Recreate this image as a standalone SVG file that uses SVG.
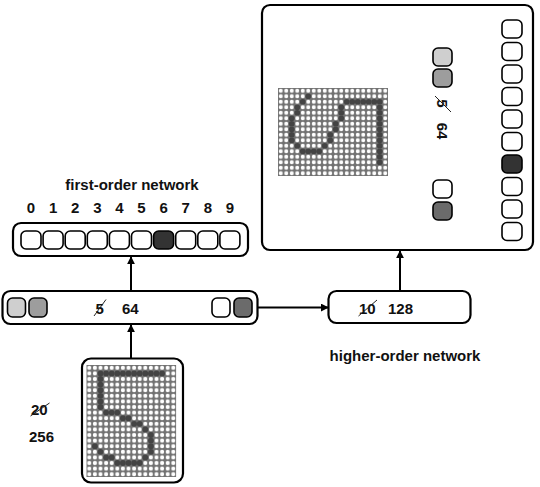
<svg xmlns="http://www.w3.org/2000/svg" width="540" height="487" viewBox="0 0 540 487">
<style>
.box{fill:#fff;stroke:#000;stroke-width:2.2}
.sq{stroke:#000;stroke-width:1.6}
.w{fill:#fff}.l{fill:#cfcfcf}.m{fill:#9d9d9d}.d{fill:#6b6b6b}.k{fill:#333}
.t{font-family:"Liberation Sans",Arial,sans-serif;font-weight:bold;font-size:15px;fill:#111}
.st{stroke:#222;stroke-width:1}
.con{stroke:#000;stroke-width:2;fill:none;marker-end:url(#ah)}
</style>
<defs>
<marker id="ah" viewBox="0 0 10 10" markerUnits="userSpaceOnUse" markerWidth="8" markerHeight="8" refX="9" refY="5" orient="auto"><path d="M0,0 L10,5 L0,10 z" fill="#000"/></marker>
<pattern id="gridA" patternUnits="userSpaceOnUse" x="86.5" y="365" width="5.6" height="5.6"><rect width="5.6" height="5.6" fill="#727272"/><circle cx="2.8" cy="2.8" r="2.05" fill="#fff"/></pattern>
<pattern id="gridB" patternUnits="userSpaceOnUse" x="278" y="88" width="5.5" height="5.5"><rect width="5.5" height="5.5" fill="#727272"/><circle cx="2.75" cy="2.75" r="2.0" fill="#fff"/></pattern>
</defs>

<g id="connectors">
<path class="con" d="M131,358 V325"/>
<path class="con" d="M131,291 V257"/>
<path class="con" d="M258,307.5 H328"/>
<path class="con" d="M400,291 V251"/>
</g>

<g id="output">
<text class="t" x="132" y="190" text-anchor="middle">first-order network</text>
<g text-anchor="middle" class="t">
<text x="31" y="213">0</text><text x="53.1" y="213">1</text><text x="75.2" y="213">2</text><text x="97.3" y="213">3</text><text x="119.4" y="213">4</text><text x="141.5" y="213">5</text><text x="163.6" y="213">6</text><text x="185.7" y="213">7</text><text x="207.8" y="213">8</text><text x="229.9" y="213">9</text>
</g>
<rect class="box" x="13" y="223" width="235" height="33" rx="8"/>
<rect class="sq w" x="21" y="231" width="20" height="18" rx="5"/>
<rect class="sq w" x="43.1" y="231" width="20" height="18" rx="5"/>
<rect class="sq w" x="65.2" y="231" width="20" height="18" rx="5"/>
<rect class="sq w" x="87.3" y="231" width="20" height="18" rx="5"/>
<rect class="sq w" x="109.4" y="231" width="20" height="18" rx="5"/>
<rect class="sq w" x="131.5" y="231" width="20" height="18" rx="5"/>
<rect class="sq k" x="153.6" y="231" width="20" height="18" rx="5"/>
<rect class="sq w" x="175.7" y="231" width="20" height="18" rx="5"/>
<rect class="sq w" x="197.8" y="231" width="20" height="18" rx="5"/>
<rect class="sq w" x="219.9" y="231" width="20" height="18" rx="5"/>
</g>

<g id="hidden">
<rect class="box" x="2.5" y="291" width="255" height="33" rx="8"/>
<rect class="sq l" x="7.5" y="298" width="18" height="19" rx="5"/>
<rect class="sq m" x="29" y="298" width="18" height="19" rx="5"/>
<rect class="sq w" x="212" y="298" width="18" height="19" rx="5"/>
<rect class="sq d" x="234" y="298" width="18" height="19" rx="5"/>
<text class="t" x="95.5" y="314">5</text>
<line class="st" x1="94" y1="316" x2="106" y2="299.5"/>
<text class="t" x="122" y="314">64</text>
</g>

<g id="higher">
<rect class="box" x="328.5" y="291" width="142" height="32" rx="8"/>
<text class="t" x="359" y="314">10</text>
<line class="st" x1="358.5" y1="316" x2="377" y2="300"/>
<text class="t" x="388" y="314">128</text>
<text class="t" x="405" y="361" text-anchor="middle">higher-order network</text>
</g>

<g id="input">
<rect class="box" x="82" y="358.5" width="101" height="124" rx="9"/>
<rect x="86.5" y="365" width="89.6" height="112" fill="url(#gridA)"/>
<g transform="translate(89.3 367.8) scale(5.6)" fill="#444">
<circle cx="2" cy="1" r=".52"/><circle cx="3" cy="1" r=".52"/><circle cx="4" cy="1" r=".52"/><circle cx="5" cy="1" r=".52"/><circle cx="6" cy="1" r=".52"/><circle cx="7" cy="1" r=".52"/><circle cx="8" cy="1" r=".52"/><circle cx="9" cy="1" r=".52"/><circle cx="10" cy="1" r=".52"/><circle cx="11" cy="1" r=".52"/><circle cx="12" cy="1" r=".52"/><circle cx="13" cy="1" r=".52"/>
<circle cx="2" cy="2" r=".52"/><circle cx="2" cy="3" r=".52"/><circle cx="2" cy="4" r=".52"/><circle cx="2" cy="5" r=".52"/><circle cx="2" cy="6" r=".52"/><circle cx="2" cy="7" r=".52"/>
<circle cx="3" cy="8" r=".52"/><circle cx="4" cy="8" r=".52"/><circle cx="5" cy="8" r=".52"/>
<circle cx="6" cy="9" r=".52"/><circle cx="7" cy="9" r=".52"/>
<circle cx="8" cy="10" r=".52"/><circle cx="9" cy="10" r=".52"/>
<circle cx="10" cy="11" r=".52"/>
<circle cx="11" cy="12" r=".52"/><circle cx="11" cy="13" r=".52"/><circle cx="11" cy="14" r=".52"/><circle cx="11" cy="15" r=".52"/>
<circle cx="1" cy="14" r=".52"/><circle cx="2" cy="15" r=".52"/><circle cx="3" cy="16" r=".52"/><circle cx="4" cy="16" r=".52"/><circle cx="10" cy="16" r=".52"/>
<circle cx="5" cy="17" r=".52"/><circle cx="6" cy="17" r=".52"/><circle cx="7" cy="17" r=".52"/><circle cx="8" cy="17" r=".52"/><circle cx="9" cy="17" r=".52"/>
</g>
<text class="t" x="31" y="415">20</text>
<line class="st" x1="30.5" y1="416" x2="49.5" y2="403"/>
<text class="t" x="29" y="442">256</text>
</g>

<g id="metacognition">
<rect class="box" x="262" y="5" width="271" height="245" rx="8"/>
<rect x="278" y="88" width="110" height="88" fill="url(#gridB)"/>
<g transform="translate(280.75 90.75) scale(5.5)" fill="#444">
<circle cx="18" cy="2" r=".52"/><circle cx="18" cy="3" r=".52"/><circle cx="18" cy="4" r=".52"/><circle cx="18" cy="5" r=".52"/><circle cx="18" cy="6" r=".52"/><circle cx="18" cy="7" r=".52"/><circle cx="18" cy="8" r=".52"/><circle cx="18" cy="9" r=".52"/><circle cx="18" cy="10" r=".52"/><circle cx="18" cy="11" r=".52"/><circle cx="18" cy="12" r=".52"/><circle cx="18" cy="13" r=".52"/>
<circle cx="17" cy="2" r=".52"/><circle cx="16" cy="2" r=".52"/><circle cx="15" cy="2" r=".52"/><circle cx="14" cy="2" r=".52"/><circle cx="13" cy="2" r=".52"/><circle cx="12" cy="2" r=".52"/>
<circle cx="11" cy="3" r=".52"/><circle cx="11" cy="4" r=".52"/><circle cx="11" cy="5" r=".52"/>
<circle cx="10" cy="6" r=".52"/><circle cx="10" cy="7" r=".52"/>
<circle cx="9" cy="8" r=".52"/><circle cx="9" cy="9" r=".52"/>
<circle cx="8" cy="10" r=".52"/>
<circle cx="7" cy="11" r=".52"/><circle cx="6" cy="11" r=".52"/><circle cx="5" cy="11" r=".52"/><circle cx="4" cy="11" r=".52"/>
<circle cx="5" cy="1" r=".52"/><circle cx="4" cy="2" r=".52"/><circle cx="3" cy="3" r=".52"/><circle cx="3" cy="4" r=".52"/><circle cx="3" cy="10" r=".52"/>
<circle cx="2" cy="5" r=".52"/><circle cx="2" cy="6" r=".52"/><circle cx="2" cy="7" r=".52"/><circle cx="2" cy="8" r=".52"/><circle cx="2" cy="9" r=".52"/>
</g>
<rect class="sq l" x="433" y="48" width="19" height="18" rx="5"/>
<rect class="sq m" x="433" y="69" width="19" height="18" rx="5"/>
<rect class="sq w" x="433" y="180" width="19" height="18" rx="5"/>
<rect class="sq d" x="433" y="202" width="19" height="18" rx="5"/>
<text class="t" transform="translate(437 103.5) rotate(90)" text-anchor="middle">5</text>
<line class="st" x1="435" y1="96" x2="451" y2="112"/>
<text class="t" transform="translate(437 131) rotate(90)" text-anchor="middle">64</text>
<rect class="sq w" x="502" y="20" width="20" height="18" rx="5"/>
<rect class="sq w" x="502" y="42.5" width="20" height="18" rx="5"/>
<rect class="sq w" x="502" y="65" width="20" height="18" rx="5"/>
<rect class="sq w" x="502" y="87.5" width="20" height="18" rx="5"/>
<rect class="sq w" x="502" y="110" width="20" height="18" rx="5"/>
<rect class="sq w" x="502" y="132.5" width="20" height="18" rx="5"/>
<rect class="sq k" x="502" y="155" width="20" height="18" rx="5"/>
<rect class="sq w" x="502" y="177.5" width="20" height="18" rx="5"/>
<rect class="sq w" x="502" y="200" width="20" height="18" rx="5"/>
<rect class="sq w" x="502" y="222.5" width="20" height="18" rx="5"/>
</g>
</svg>
